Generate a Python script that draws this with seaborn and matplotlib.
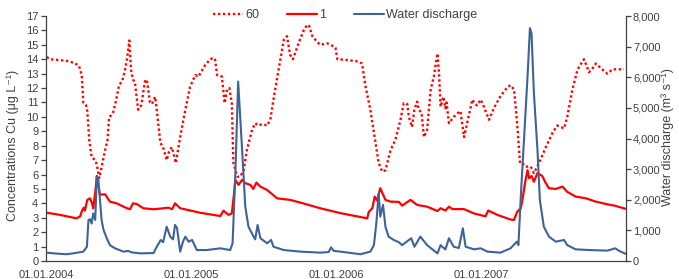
import numpy as np
import pandas as pd
import matplotlib
matplotlib.use("Agg")
import matplotlib.pyplot as plt
from matplotlib.ticker import FuncFormatter, MultipleLocator
import seaborn as sns

# ---- data (days since 01.01.2004) ----
days_60 = [2, 10, 30, 50, 71, 83, 90, 94, 101, 104, 109, 115, 124, 128, 134, 140, 149, 155, 159, 164,
           169, 177, 184, 192, 197, 204, 210, 214, 219, 224, 232, 240, 250, 255, 262, 267, 275, 279, 288, 295,
           304, 310, 317, 327, 338, 351, 363, 376, 384, 401, 414, 422, 426, 431, 443, 450, 456, 462, 468, 472,
           482, 489, 498, 506, 519, 527, 535, 545, 557, 565, 573, 586, 599, 607, 615, 622, 636, 649, 658, 663,
           671, 683, 691, 709, 724, 729, 734, 754, 787, 796, 805, 817, 830, 838, 847, 855, 868, 880, 893, 901,
           910, 914, 922, 928, 935, 939, 946, 952, 960, 969, 977, 986, 990, 994, 1001, 1006, 1009, 1015, 1027, 1039,
           1044, 1053, 1061, 1074, 1080, 1086, 1095, 1103, 1116, 1128, 1145, 1162, 1170, 1179, 1187, 1194, 1200, 1208, 1221, 1229,
           1242, 1259, 1276, 1288, 1305, 1313, 1326, 1339, 1355, 1368, 1375, 1385, 1397, 1414, 1427, 1456]
conc_60 = [14.15, 14.0, 13.95, 13.9, 13.75, 13.55, 12.9, 11.0, 10.8, 10.4, 8.4, 7.2, 7.0, 6.7, 5.75, 6.5, 7.7, 8.4, 10.0, 10.1,
           10.3, 11.2, 12.2, 12.5, 13.0, 14.0, 15.3, 13.3, 12.6, 12.4, 10.5, 10.8, 12.6, 12.4, 11.0, 10.9, 11.4, 10.5, 8.2, 7.9,
           7.0, 7.6, 7.9, 6.8, 8.6, 10.5, 12.1, 12.9, 12.8, 13.6, 14.0, 14.1, 13.96, 12.9, 12.8, 10.95, 11.9, 12.0, 10.95, 6.8,
           5.85, 5.85, 6.3, 7.7, 9.1, 9.56, 9.4, 9.5, 9.4, 9.8, 11.2, 13.3, 15.35, 15.6, 14.3, 14.0, 15.1, 16.0, 16.4, 16.3,
           15.6, 15.2, 15.0, 15.1, 14.9, 14.8, 14.0, 13.96, 13.84, 13.7, 12.1, 10.5, 8.2, 6.8, 6.2, 6.3, 7.7, 8.4, 9.8, 10.95,
           10.9, 10.0, 9.3, 10.5, 11.06, 10.5, 10.3, 8.6, 9.1, 11.9, 12.8, 14.4, 13.0, 10.7, 11.4, 10.6, 11.0, 9.56, 10.0, 10.3,
           10.4, 8.6, 9.6, 11.2, 10.9, 10.8, 11.2, 10.7, 9.8, 10.6, 11.45, 12.05, 12.2, 11.9, 9.5, 6.8, 6.8, 6.55, 6.55, 6.1,
           6.8, 7.9, 8.9, 9.4, 9.2, 10.0, 11.9, 13.3, 14.0, 13.1, 13.3, 13.7, 13.4, 13.0, 13.3, 13.3]

days_1 = [2, 35, 77, 86, 91, 95, 98, 104, 111, 116, 119, 125, 128, 132, 136, 149, 161, 178, 204, 212,
          219, 229, 245, 271, 296, 308, 318, 325, 338, 388, 439, 447, 460, 468, 473, 477, 485, 494, 502, 515,
          522, 530, 540, 557, 582, 615, 641, 691, 742, 796, 809, 813, 822, 828, 834, 842, 855, 868, 889, 897,
          918, 935, 960, 986, 994, 1006, 1015, 1024, 1053, 1078, 1107, 1114, 1137, 1170, 1179, 1187, 1196, 1200, 1208, 1213,
          1217, 1223, 1229, 1238, 1250, 1259, 1267, 1284, 1301, 1313, 1334, 1360, 1385, 1410, 1435, 1460]
conc_1 = [3.35, 3.2, 2.96, 3.1, 3.5, 3.7, 3.5, 4.24, 4.35, 4.0, 3.66, 5.0, 5.9, 5.16, 4.6, 4.63, 4.12, 4.0, 3.66, 3.6,
          4.0, 3.95, 3.66, 3.59, 3.66, 3.7, 3.6, 4.0, 3.66, 3.35, 3.12, 3.49, 3.2, 3.3, 4.5, 5.63, 5.28, 5.63, 5.4, 5.28,
          5.0, 5.44, 5.16, 4.93, 4.35, 4.24, 4.05, 3.66, 3.32, 3.03, 2.96, 3.4, 3.66, 4.47, 4.2, 5.05, 4.24, 4.12, 4.1, 3.84,
          4.24, 3.89, 3.77, 3.47, 3.66, 3.5, 3.77, 3.6, 3.6, 3.3, 3.1, 3.5, 3.2, 2.88, 2.85, 3.42, 3.66, 4.24, 5.63, 6.3,
          5.74, 5.9, 5.5, 6.1, 5.9, 5.4, 5.05, 5.0, 5.16, 4.8, 4.47, 4.35, 4.12, 3.96, 3.82, 3.62]

days_q = [2, 23, 52, 73, 94, 103, 107, 111, 115, 119, 124, 128, 132, 136, 140, 145, 153, 161, 174, 195,
          207, 216, 237, 271, 279, 289, 295, 304, 313, 320, 325, 330, 338, 345, 351, 359, 368, 380, 405, 439,
          464, 470, 477, 484, 494, 502, 510, 523, 527, 533, 540, 557, 567, 573, 599, 641, 691, 712, 718, 725,
          742, 792, 817, 826, 832, 838, 842, 849, 855, 863, 876, 889, 897, 920, 928, 943, 960, 986, 994, 1006,
          1015, 1027, 1040, 1050, 1057, 1078, 1095, 1112, 1145, 1170, 1186, 1190, 1196, 1204, 1213, 1219, 1223, 1229, 1238, 1244,
          1254, 1267, 1284, 1305, 1313, 1334, 1368, 1414, 1434, 1444, 1460]
discharge = [273, 245, 221, 259, 306, 466, 1341, 1365, 1224, 1553, 1341, 2753, 2635, 1995, 1341, 1012, 744, 518, 414, 306,
             329, 282, 249, 259, 466, 687, 612, 1120, 795, 706, 1177, 1082, 306, 631, 795, 631, 687, 358, 358, 414,
             358, 579, 2871, 5859, 3624, 1774, 1120, 795, 706, 1177, 744, 579, 687, 466, 358, 306, 273, 292, 447, 329,
             306, 221, 306, 518, 1224, 2212, 1449, 1835, 1120, 795, 687, 612, 518, 744, 466, 795, 518, 249, 518, 376,
             744, 466, 424, 1068, 466, 381, 414, 306, 273, 414, 631, 518, 2104, 3953, 6024, 7605, 7435, 5482, 3624, 1995,
             1120, 795, 631, 687, 518, 381, 358, 339, 414, 329, 235]

x_tick_dates = ["2004-01-01", "2005-01-01", "2006-01-01", "2007-01-01"]
series_names = ["60", "1", "Water discharge"]

start = pd.Timestamp("2004-01-01")
def to_dates(d):
    return start + pd.to_timedelta(np.array(d), unit="D")

df60 = pd.DataFrame({"date": to_dates(days_60), "value": conc_60})
df1 = pd.DataFrame({"date": to_dates(days_1), "value": conc_1})
dfq = pd.DataFrame({"date": to_dates(days_q), "value": discharge})

sns.set_theme(style="white")
plt.rcParams["font.family"] = ["Liberation Sans", "DejaVu Sans"]
text_color = "#404040"

fig = plt.figure(figsize=(6.79, 2.79), dpi=100)
ax = fig.add_axes([46 / 679, 1 - 261 / 279, 580 / 679, 245 / 279])
ax2 = ax.twinx()

red = "#FF0000"
blue = "#3D6399"
sns.lineplot(data=df60, x="date", y="value", ax=ax, color=red, linewidth=1.7,
             linestyle=(0, (1, 1.1)), label=series_names[0], legend=False)
sns.lineplot(data=df1, x="date", y="value", ax=ax, color=red, linewidth=1.6,
             label=series_names[1], legend=False)
sns.lineplot(data=dfq, x="date", y="value", ax=ax2, color=blue, linewidth=1.5,
             label=series_names[2], legend=False)

ax.set_xlim(pd.Timestamp("2004-01-01"), pd.Timestamp("2008-01-01"))
ax.set_ylim(0, 17)
ax2.set_ylim(0, 8000)
ax.yaxis.set_major_locator(MultipleLocator(1))
ax2.yaxis.set_major_locator(MultipleLocator(1000))
ax2.yaxis.set_major_formatter(FuncFormatter(lambda v, p: f"{int(v):,}"))
ticks = list(pd.to_datetime(x_tick_dates)) + [pd.Timestamp("2008-01-01")]
ax.set_xticks(ticks)
ax.set_xticklabels([pd.Timestamp(t).strftime("%d.%m.%Y") for t in x_tick_dates] + [""])

ax.set_xlabel("")
ax2.set_xlabel("")
ax.set_ylabel("")
ax2.set_ylabel("")
fig.text(13 / 679, 1 - 145 / 279, "Concentrations Cu (μg L⁻¹)", rotation=90,
         ha="center", va="center", fontsize=9, color=text_color)
fig.text(668 / 679, 1 - 137 / 279, "Water discharge (m³ s⁻¹)", rotation=90,
         ha="center", va="center", fontsize=9, color=text_color)

for a in (ax, ax2):
    a.spines["top"].set_visible(False)
    for s in ("left", "right", "bottom"):
        a.spines[s].set_color("#404040")
        a.spines[s].set_linewidth(0.9)
    a.tick_params(axis="both", which="major", labelsize=8, colors=text_color,
                  length=3.5, width=0.9, direction="out", pad=2)
ax2.tick_params(axis="y", pad=1.5)
ax.tick_params(axis="x", pad=3)
ax.spines["right"].set_visible(False)
ax2.spines["left"].set_visible(False)
ax2.spines["bottom"].set_visible(False)
ax.grid(False)
ax2.grid(False)

h1, l1 = ax.get_legend_handles_labels()
h2, l2 = ax2.get_legend_handles_labels()
fig.legend(h1 + h2, l1 + l2, loc="center", bbox_to_anchor=(0.508, 0.946), ncol=3,
           frameon=False, fontsize=9, handlelength=2.4, handletextpad=0.2,
           columnspacing=2.2, labelcolor=text_color)

fig.savefig("out.png", dpi=100)
